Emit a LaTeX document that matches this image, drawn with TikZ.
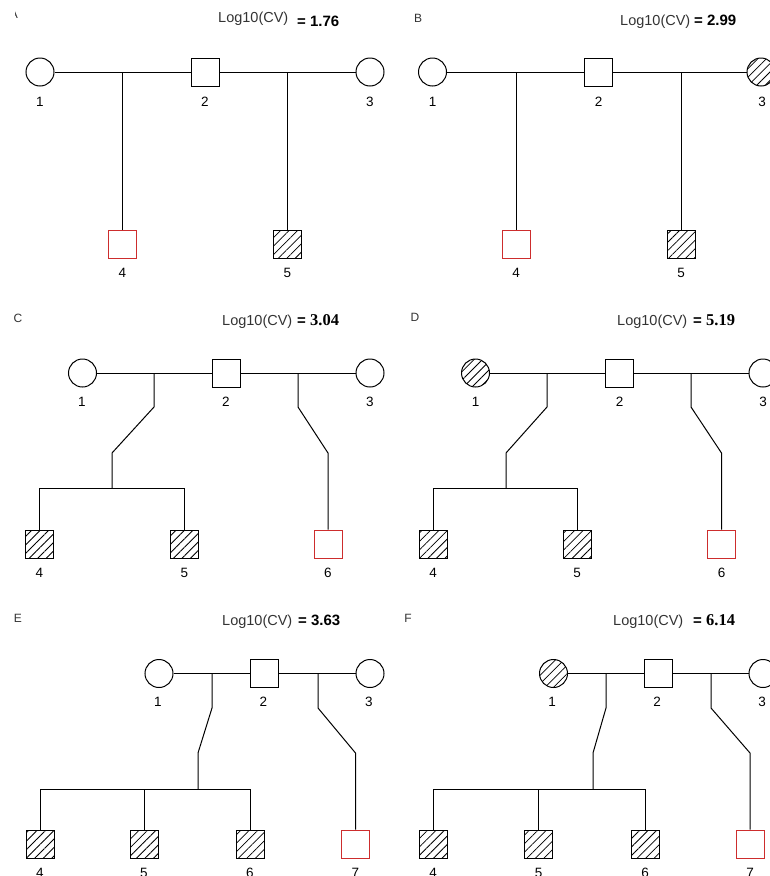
\documentclass[tikz,border=0pt]{standalone}
\usepackage{fontspec}
\setmainfont{Liberation Sans}
\newfontfamily\serifbf{Liberation Serif}
\usetikzlibrary{patterns.meta}
\definecolor{probred}{RGB}{205,45,45}
\tikzset{
 ln/.style={line width=1pt},
 fem/.style={circle, draw, line width=1pt, minimum size=28pt, inner sep=0pt},
 mal/.style={rectangle, draw, line width=1pt, minimum size=28pt, inner sep=0pt},
 aff/.style={pattern={Lines[angle=45,distance=6pt,line width=0.8pt]}},
 prob/.style={draw=probred},
 lbl/.style={font=\fontsize{13.5}{13.5}\selectfont, inner sep=0pt},
 ttl/.style={font=\fontsize{14.5}{14.5}\selectfont, text=black!80, anchor=base west, inner sep=0pt},
 val/.style={font=\fontsize{15}{15}\selectfont\bfseries, anchor=base west, inner sep=0pt},
 ltr/.style={font=\fontsize{12}{12}\selectfont, text=black!80, inner sep=0pt},
}
\newcommand{\sbv}[1]{{\fontsize{16.5}{16.5}\selectfont\serifbf\bfseries #1}}
\begin{document}
\begin{tikzpicture}[x=1pt,y=-1pt]
\useasboundingbox (0,0) rectangle (770,876);
% ---------------- Panel A ----------------
\begin{scope}
\clip (15.5,0) rectangle (40,40);
\node[ltr] (ltrA) at (14,14) {A};
\end{scope}
\node[ttl] (tA) at (218,22) {Log10(CV)};
\node[val] (vA) at (297,26) {= 1.76};
\node[fem] (a1) at (40,72) {};
\node[mal] (a2) at (205,72) {};
\node[fem] (a3) at (370,72) {};
\node[mal,prob] (a4) at (122.5,244) {};
\node[mal,aff] (a5) at (287.5,244) {};
\coordinate (am1) at (122.5,72);
\coordinate (am2) at (287.5,72);
\draw[ln] (a1) -- (a2) -- (a3);
\draw[ln] (am1) -- (a4);
\draw[ln] (am2) -- (a5);
\node[lbl] (la1) at (40,102) {1};
\node[lbl] (la2) at (205,102) {2};
\node[lbl] (la3) at (370,102) {3};
\node[lbl] (la4) at (122.5,273) {4};
\node[lbl] (la5) at (287.5,273) {5};
% ---------------- Panel B ----------------
\node[ltr] (ltrB) at (418,18) {B};
\node[ttl] (tB) at (620,25) {Log10(CV)};
\node[val] (vB) at (694,25) {= 2.99};
\node[fem] (b1) at (432.5,72) {};
\node[mal] (b2) at (598.5,72) {};
\node[fem,aff] (b3) at (761,72) {};
\node[mal,prob] (b4) at (516,244) {};
\node[mal,aff] (b5) at (681,244) {};
\coordinate (bm1) at (516,72);
\coordinate (bm2) at (681,72);
\draw[ln] (b1) -- (b2) -- (b3);
\draw[ln] (bm1) -- (b4);
\draw[ln] (bm2) -- (b5);
\node[lbl] (lb1) at (432.5,102) {1};
\node[lbl] (lb2) at (598.5,102) {2};
\node[lbl] (lb3) at (762,102) {3};
\node[lbl] (lb4) at (516,273) {4};
\node[lbl] (lb5) at (681,273) {5};
% ---------------- Panel C ----------------
\node[ltr] (ltrC) at (18,318) {C};
\node[ttl] (tC) at (222,325) {Log10(CV)};
\node[val] (vC) at (297,325) {= \sbv{3.04}};
\node[fem] (c1) at (82.5,373) {};
\node[mal] (c2) at (226,373) {};
\node[fem] (c3) at (370,373) {};
\node[mal,aff] (c4) at (39.5,544) {};
\node[mal,aff] (c5) at (184.5,544) {};
\node[mal,prob] (c6) at (328,544) {};
\coordinate (cm1) at (154,373);
\coordinate (cb1) at (154,407);
\coordinate (cd1) at (112,453);
\coordinate (cs1) at (112,488);
\coordinate (cs4) at (39.5,488);
\coordinate (cs5) at (184.5,488);
\coordinate (cm2) at (298,373);
\coordinate (cb2) at (298,407);
\coordinate (cd2) at (328,453);
\draw[ln] (c1) -- (c2) -- (c3);
\draw[ln] (cm1) -- (cb1) -- (cd1) -- (cs1);
\draw[ln] (c4) -- (cs4) -- (cs5) -- (c5);
\draw[ln] (cm2) -- (cb2) -- (cd2) -- (c6);
\node[lbl] (lc1) at (82,402) {1};
\node[lbl] (lc2) at (226,402) {2};
\node[lbl] (lc3) at (370,402) {3};
\node[lbl] (lc4) at (39.5,573) {4};
\node[lbl] (lc5) at (184.5,573) {5};
\node[lbl] (lc6) at (328,573) {6};
% ---------------- Panel D ----------------
\node[ltr] (ltrD) at (415,317) {D};
\node[ttl] (tD) at (617,325) {Log10(CV)};
\node[val] (vD) at (693,325) {= \sbv{5.19}};
\node[fem,aff] (d1) at (475.5,373) {};
\node[mal] (d2) at (619.5,373) {};
\node[fem] (d3) at (763,373) {};
\node[mal,aff] (d4) at (433,544) {};
\node[mal,aff] (d5) at (577,544) {};
\node[mal,prob] (d6) at (721.5,544) {};
\coordinate (dm1) at (547,373);
\coordinate (db1) at (547,407);
\coordinate (dd1) at (506,453);
\coordinate (ds1) at (506,488);
\coordinate (ds4) at (433,488);
\coordinate (ds5) at (577,488);
\coordinate (dm2) at (691,373);
\coordinate (db2) at (691,407);
\coordinate (dd2) at (721.5,453);
\draw[ln] (d1) -- (d2) -- (d3);
\draw[ln] (dm1) -- (db1) -- (dd1) -- (ds1);
\draw[ln] (d4) -- (ds4) -- (ds5) -- (d5);
\draw[ln] (dm2) -- (db2) -- (dd2) -- (d6);
\node[lbl] (ld1) at (475.5,402) {1};
\node[lbl] (ld2) at (619.5,402) {2};
\node[lbl] (ld3) at (763,402) {3};
\node[lbl] (ld4) at (433,573) {4};
\node[lbl] (ld5) at (577,573) {5};
\node[lbl] (ld6) at (721.5,573) {6};
% ---------------- Panel E ----------------
\node[ltr] (ltrE) at (18,618) {E};
\node[ttl] (tE) at (222,625) {Log10(CV)};
\node[val] (vE) at (298,625) {= 3.63};
\node[fem] (e1) at (159,673.5) {};
\node[mal] (e2) at (264.5,673.5) {};
\node[fem] (e3) at (370,673.5) {};
\node[mal,aff] (e4) at (40,844) {};
\node[mal,aff] (e5) at (144,844) {};
\node[mal,aff] (e6) at (250,844) {};
\node[mal,prob] (e7) at (355.5,844) {};
\coordinate (em1) at (212,673.5);
\coordinate (eb1) at (212,708);
\coordinate (ed1) at (198,753);
\coordinate (es1) at (198,789);
\coordinate (es4) at (40,789);
\coordinate (es5) at (144,789);
\coordinate (es6) at (250,789);
\coordinate (em2) at (318,673.5);
\coordinate (eb2) at (318,708);
\coordinate (ed2) at (355.5,753);
\draw[ln] (e1) -- (e2) -- (e3);
\draw[ln] (em1) -- (eb1) -- (ed1) -- (es1);
\draw[ln] (e4) -- (es4) -- (es6) -- (e6);
\draw[ln] (es5) -- (e5);
\draw[ln] (em2) -- (eb2) -- (ed2) -- (e7);
\node[lbl] (le1) at (158,702) {1};
\node[lbl] (le2) at (263.5,702) {2};
\node[lbl] (le3) at (369,702) {3};
\node[lbl] (le4) at (40,873) {4};
\node[lbl] (le5) at (144,873) {5};
\node[lbl] (le6) at (250,873) {6};
\node[lbl] (le7) at (355.5,873) {7};
% ---------------- Panel F ----------------
\node[ltr] (ltrF) at (408,618) {F};
\node[ttl] (tF) at (613,625) {Log10(CV)};
\node[val] (vF) at (693,625) {= \sbv{6.14}};
\node[fem,aff] (f1) at (553.5,673.5) {};
\node[mal] (f2) at (658,673.5) {};
\node[fem] (f3) at (763,673.5) {};
\node[mal,aff] (f4) at (433,844) {};
\node[mal,aff] (f5) at (538.5,844) {};
\node[mal,aff] (f6) at (645,844) {};
\node[mal,prob] (f7) at (750,844) {};
\coordinate (fm1) at (606,673.5);
\coordinate (fb1) at (606,708);
\coordinate (fd1) at (593,753);
\coordinate (fs1) at (593,789);
\coordinate (fs4) at (433,789);
\coordinate (fs5) at (538.5,789);
\coordinate (fs6) at (645,789);
\coordinate (fm2) at (711,673.5);
\coordinate (fb2) at (711,708);
\coordinate (fd2) at (750,753);
\draw[ln] (f1) -- (f2) -- (f3);
\draw[ln] (fm1) -- (fb1) -- (fd1) -- (fs1);
\draw[ln] (f4) -- (fs4) -- (fs6) -- (f6);
\draw[ln] (fs5) -- (f5);
\draw[ln] (fm2) -- (fb2) -- (fd2) -- (f7);
\node[lbl] (lf1) at (552,702) {1};
\node[lbl] (lf2) at (657,702) {2};
\node[lbl] (lf3) at (762,702) {3};
\node[lbl] (lf4) at (433,873) {4};
\node[lbl] (lf5) at (538.5,873) {5};
\node[lbl] (lf6) at (645,873) {6};
\node[lbl] (lf7) at (750,873) {7};
\end{tikzpicture}
\end{document}
